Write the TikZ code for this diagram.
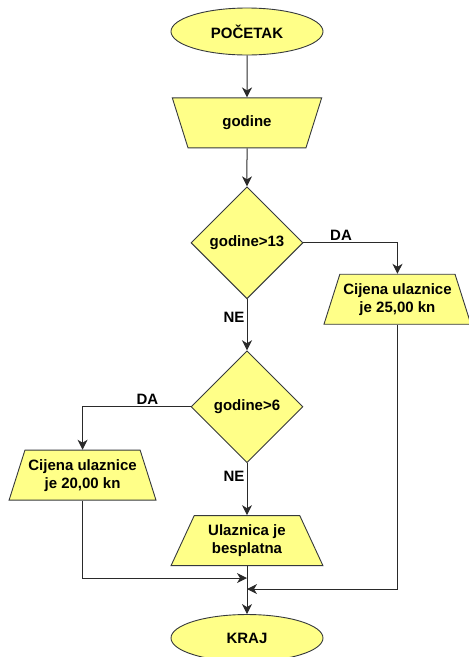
\documentclass[tikz,border=0pt]{standalone}
\usepackage{fontspec}
\setmainfont{Liberation Sans}
\usetikzlibrary{positioning, shapes.geometric, arrows.meta, calc}
\definecolor{boxfill}{HTML}{FFFF88}
\definecolor{boxline}{HTML}{36393D}
\definecolor{arrline}{HTML}{2A2A2A}

\begin{document}
\begin{tikzpicture}[x=1pt, y=1pt,
    term/.style={ellipse, draw=boxline, fill=boxfill, minimum width=152pt, minimum height=47pt, inner sep=0pt, font=\fontsize{15}{18}\selectfont\bfseries, line width=0.9pt},
    inp/.style={trapezium, trapezium stretches=true, shape border rotate=180, trapezium angle=65, draw=boxline, fill=boxfill, minimum width=150pt, minimum height=50pt, inner sep=0pt, align=center, font=\fontsize{15}{18}\selectfont\bfseries, line width=0.9pt},
    outp/.style={trapezium, trapezium stretches=true, trapezium angle=65, draw=boxline, fill=boxfill, minimum width=147pt, minimum height=50pt, inner sep=0pt, align=center, font=\fontsize{15}{18}\selectfont\bfseries, line width=0.9pt},
    dec/.style={diamond, draw=boxline, fill=boxfill, minimum width=112pt, minimum height=112pt, inner sep=0pt, align=center, font=\fontsize{15}{18}\selectfont\bfseries, line width=0.9pt},
    arr/.style={-{Stealth[length=10pt, width=10pt, inset=3pt]}, draw=arrline, line width=1pt},
    lbl/.style={font=\fontsize{15}{18}\selectfont\bfseries, inner sep=2pt},
  ]
    \useasboundingbox (0,0) rectangle (469,-657);
    \node[term] (start) at (247,-31.5) {POČETAK};
    \node[inp, below=42pt of start] (age) {godine};
    \node[dec, below=38pt of age] (gt13) {godine>13};
    \node[outp, anchor=north] (p25) at ($(gt13.east)+(94,-31)$) {Cijena ulaznice\\je 25,00 kn};
    \node[dec, below=51pt of gt13] (gt6) {godine>6};
    \node[outp, anchor=north] (p20) at ($(gt6.west)+(-108,-43)$) {Cijena ulaznice\\je 20,00 kn};
    \node[outp, trapezium angle=62, minimum width=152pt, below=52pt of gt6] (free) {Ulaznica je\\besplatna};
    \node[term, below=48pt of free] (stop) {KRAJ};
    \coordinate[below=12pt of free.south] (join1);
    \coordinate[below=23pt of free.south] (join2);

    \draw[arr] (start) -- (age);
    \draw[arr] (age) -- (gt13);
    \draw[arr] (gt13.east) -| node[lbl, pos=0.2, above]{DA} (p25.north);
    \draw[arr] (gt13.south) -- node[lbl, pos=0.35, left]{NE} (gt6.north);
    \draw[arr] (gt6.west) -| node[lbl, pos=0.2, above]{DA} (p20.north);
    \draw[arr] (gt6.south) -- node[lbl, pos=0.25, left]{NE} (free.north);
    \draw[arr] (p20.south) |- (join1);
    \draw[arr] (p25.south) |- (join2);
    \draw[arr] (free.south) -- (stop.north);
  \end{tikzpicture}
\end{document}
